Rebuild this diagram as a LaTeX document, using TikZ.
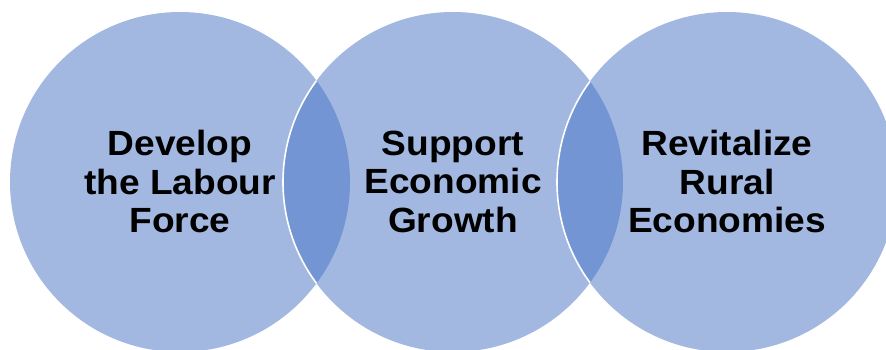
\documentclass[tikz,border=0pt]{standalone}
\usepackage{fontspec}
\setmainfont{Liberation Sans}
\newfontfamily\labfont[FakeStretch=1.06]{Liberation Sans}
\definecolor{light}{HTML}{A2B8E1}
\definecolor{lens}{HTML}{7395D3}
\begin{document}
\begin{tikzpicture}[x=1pt,y=-1pt,
  label/.style={align=center,font=\labfont\bfseries\fontsize{35}{38.5}\selectfont,text=black,inner sep=0pt}]
\useasboundingbox (0,0) rectangle (886,349);
\clip (0,0) rectangle (886,349);
\def\R{170}
\coordinate (c1) at (180,182);
\coordinate (c2) at (453,182);
\coordinate (c3) at (727,182);
\fill[light] (c1) circle (\R);
\fill[light] (c2) circle (\R);
\fill[light] (c3) circle (\R);
\begin{scope}
  \clip (c1) circle (\R);
  \fill[lens] (c2) circle (\R);
  \draw[white,line width=1.6pt] (c2) circle (\R);
\end{scope}
\begin{scope}
  \clip (c2) circle (\R);
  \fill[lens] (c3) circle (\R);
  \draw[white,line width=1.6pt] (c3) circle (\R);
\end{scope}
\node[label] (t1) at (180,181.5) {Develop\\the Labour\\Force};
\node[label] (t2) at (453,181.5) {Support\\Economic\\Growth};
\node[label] (t3) at (727,181.5) {Revitalize\\Rural\\Economies};
\end{tikzpicture}
\end{document}
